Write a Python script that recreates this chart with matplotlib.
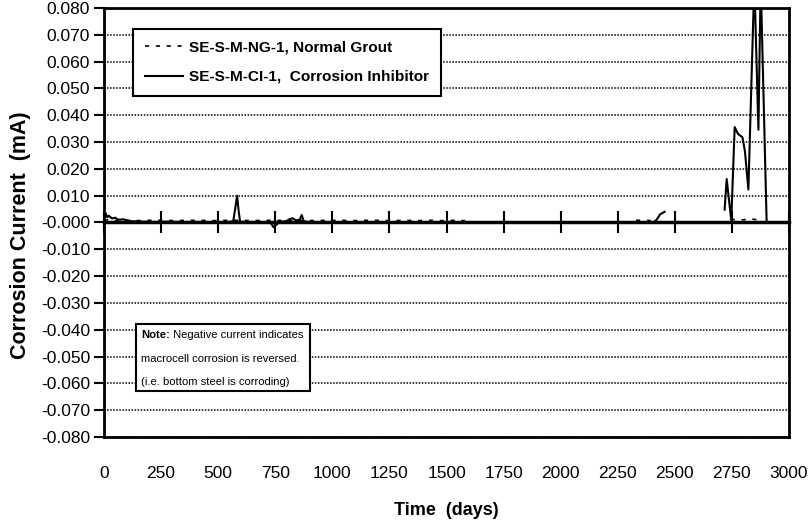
import numpy as np
import matplotlib
matplotlib.use("Agg")
import matplotlib.pyplot as plt
from matplotlib.patches import Rectangle
from matplotlib.ticker import FormatStrFormatter

plt.rcParams['font.family'] = ['Liberation Sans', 'DejaVu Sans']
plt.rcParams['axes.unicode_minus'] = False

nan = np.nan

# SE-S-M-CI-1, corrosion inhibitor (solid)
days_ci = [0, 7, 14, 21, 35, 49, 63, 84, 112, 168, 224, 280, 336, 392, 448, 504,
           546, 566, 576, 583, 590, 596, 644, 700, 728, 743, 752, 770, 798, 812,
           826, 840, 856, 866, 874, 896, 952, 1008, 1064, 1120, 1176, 1232, 1288,
           1344, 1400, 1456, 1512, 1582, 1600,
           2405, 2420, 2435, 2455, 2470,
           2718, 2727, 2747, 2762, 2777, 2796, 2807, 2822, 2848, 2866, 2876, 2902]
cur_ci = [0.0010, 0.0035, 0.0020, 0.0025, 0.0015, 0.0018, 0.0010, 0.0012, 0.0005,
          0.0003, 0.0002, 0.0003, 0.0002, 0.0002, 0.0002, 0.0001,
          0.0002, 0.0005, 0.0060, 0.0100, 0.0040, 0.0003, 0.0002, 0.0002, 0.0001,
          -0.0018, -0.0010, 0.0002, 0.0005, 0.0012,
          0.0016, 0.0008, 0.0010, 0.0028, 0.0005, 0.0002, 0.0001, 0.0001, 0.0001,
          0.0001, 0.0001, 0.0001, 0.0001, 0.0001, 0.0001, 0.0001, 0.0001, 0.0001, nan,
          0.0000, 0.0010, 0.0030, 0.0040, nan,
          0.0048, 0.0162, 0.0008, 0.0356, 0.0330, 0.0318, 0.0265, 0.0123, 0.0900,
          0.0346, 0.0900, 0.0000]

# SE-S-M-NG-1, normal grout (dashed)
days_ng = [0, 28, 56, 84, 112, 140, 196, 252, 308, 364, 420, 476, 532, 588, 644,
           700, 756, 812, 868, 924, 980, 1036, 1092, 1148, 1204, 1260, 1316, 1372,
           1428, 1484, 1540, 1582, 1600,
           2330, 2360, 2395, 2410,
           2745, 2770, 2800, 2830, 2860, 2885]
cur_ng = [0.0010, 0.0009, 0.0008, 0.0007, 0.0008, 0.0007, 0.0008, 0.0008, 0.0007,
          0.0008, 0.0008, 0.0007, 0.0008, 0.0008, 0.0007, 0.0008, 0.0008, 0.0007,
          0.0008, 0.0007, 0.0008, 0.0008, 0.0007, 0.0008, 0.0008, 0.0007, 0.0008,
          0.0007, 0.0008, 0.0007, 0.0008, 0.0007, nan,
          0.0008, 0.0008, 0.0007, nan,
          0.0012, 0.0010, 0.0010, 0.0014, 0.0010, 0.0010]

xticks = np.arange(0, 3001, 250)
yticks = np.arange(-0.08, 0.0801, 0.01)

fig = plt.figure(figsize=(8.1, 5.29), dpi=100)
ax = fig.add_axes([0.1284, 0.1739, 0.8457, 0.8110])

ax.plot(days_ng, cur_ng, color='black', lw=1.2, linestyle=(0, (2.5, 4)),
        label='SE-S-M-NG-1, Normal Grout', zorder=3)
ax.plot(days_ci, cur_ci, color='black', lw=1.5,
        label='SE-S-M-CI-1,  Corrosion Inhibitor', zorder=3)

ax.set_xlim(0, 3000)
ax.set_ylim(-0.08, 0.08)
ax.set_xticks(xticks)
ax.set_yticks(yticks)
ax.yaxis.set_major_formatter(FormatStrFormatter('%.3f'))
ax.tick_params(axis='x', length=0, pad=21, labelsize=12.5)
ax.tick_params(axis='y', direction='out', length=7, width=1.5, labelsize=12.5, pad=3)
ax.yaxis.grid(True, color='black', linestyle=(0, (1, 1)), lw=1.1)
ax.set_axisbelow(True)
for s in ax.spines.values():
    s.set_linewidth(2)

# x axis crossing at zero
secax = ax.secondary_xaxis(0.5)
secax.set_xticks(xticks)
secax.tick_params(axis='x', which='both', direction='inout', length=16, width=1.5,
                  labeltop=False, labelbottom=False)
secax.spines['top'].set_linewidth(2.5)
secax.spines['bottom'].set_linewidth(2.5)

ax.set_xlabel('Time  (days)', fontsize=13, fontweight='bold', labelpad=15)
ax.set_ylabel('Corrosion Current  (mA)', fontsize=15.5, fontweight='bold')
ax.yaxis.set_label_coords(-0.107, 0.47)

leg = ax.legend(loc='upper left', bbox_to_anchor=(0.0423, 0.951), borderaxespad=0,
                fancybox=False, edgecolor='black', framealpha=1,
                prop={'weight': 'bold', 'size': 11.1}, handlelength=2.5,
                handletextpad=0.4, labelspacing=1.0, borderpad=0.75)
leg.get_frame().set_linewidth(1.5)
leg.set_zorder(5)

# note box
ax.add_patch(Rectangle((0.0467, 0.1072), 0.254, 0.1562, transform=ax.transAxes,
                       facecolor='white', edgecolor='black', lw=1.5, zorder=5))
t1 = ax.text(0.054, 0.2378, 'Note:', transform=ax.transAxes, fontsize=8.1,
             fontweight='bold', va='center', ha='left', zorder=6)
ax.annotate(' Negative current indicates', xy=(1, 0), xycoords=t1, va='bottom',
            ha='left', fontsize=8.1, zorder=6)
ax.text(0.054, 0.1818, 'macrocell corrosion is reversed.', transform=ax.transAxes,
        fontsize=8.1, va='center', ha='left', zorder=6)
ax.text(0.054, 0.1282, '(i.e. bottom steel is corroding)', transform=ax.transAxes,
        fontsize=8.1, va='center', ha='left', zorder=6)

fig.savefig('out.png', dpi=100)
